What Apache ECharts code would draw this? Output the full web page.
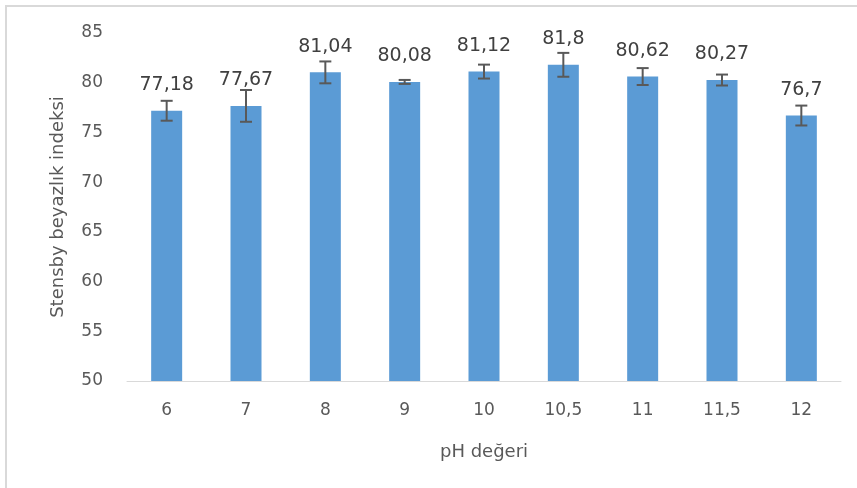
<!DOCTYPE html>
<html>
<head>
<meta charset="utf-8">
<script src="https://cdn.jsdelivr.net/npm/echarts@6/dist/echarts.min.js"></script>
<style>
html,body{margin:0;padding:0;background:#fff;}
#chart{width:857px;height:488px;}
</style>
</head>
<body>
<div id="chart"></div>
<script>
const categories = ['6','7','8','9','10','10,5','11','11,5','12'];
const values = [77.18, 77.67, 81.04, 80.08, 81.12, 81.8, 80.62, 80.27, 76.7];
const errors = [1.0, 1.6, 1.1, 0.2, 0.7, 1.2, 0.85, 0.55, 1.0];
const yTicks = [50, 55, 60, 65, 70, 75, 80, 85];

const FONT = '"DejaVu Sans", "Liberation Sans", sans-serif';
const chart = echarts.init(document.getElementById('chart'));
chart.setOption({
  animation: false,
  backgroundColor: '#fff',
  graphic: [
    { type: 'line', shape: { x1: 5, y1: 6, x2: 857, y2: 6 }, style: { stroke: '#d9d9d9', lineWidth: 2 } },
    { type: 'line', shape: { x1: 6, y1: 5, x2: 6, y2: 488 }, style: { stroke: '#d9d9d9', lineWidth: 2 } }
  ],
  grid: { left: 127, right: 16, top: 33, bottom: 107 },
  xAxis: {
    type: 'category',
    data: categories,
    name: 'pH değeri',
    nameLocation: 'middle',
    nameGap: 62,
    nameTextStyle: { fontFamily: FONT, fontSize: 18, color: '#595959' },
    axisLine: { lineStyle: { color: '#d9d9d9', width: 1 } },
    axisTick: { show: false },
    axisLabel: { fontFamily: FONT, fontSize: 17, color: '#595959', margin: 21 }
  },
  yAxis: {
    type: 'value',
    min: yTicks[0],
    max: yTicks[yTicks.length - 1],
    interval: 5,
    name: 'Stensby beyazlık indeksi',
    nameLocation: 'middle',
    nameGap: 60,
    nameTextStyle: { fontFamily: FONT, fontSize: 18, color: '#595959' },
    axisLine: { show: false },
    axisTick: { show: false },
    splitLine: { show: false },
    axisLabel: { fontFamily: FONT, fontSize: 17, color: '#595959', margin: 24 }
  },
  series: [
    {
      type: 'bar',
      data: values,
      barWidth: 31,
      itemStyle: { color: '#5b9bd5' },
      label: {
        show: true,
        position: 'top',
        distance: 16,
        fontFamily: FONT,
        fontSize: 19,
        color: '#404040',
        formatter: p => String(p.value).replace('.', ',')
      },
      z: 2
    },
    {
      type: 'custom',
      data: values.map((v, i) => [i, v - errors[i], v + errors[i]]),
      renderItem: function (params, api) {
        const lo = api.coord([api.value(0), api.value(1)]);
        const hi = api.coord([api.value(0), api.value(2)]);
        const hw = 6;
        const st = { stroke: '#595959', lineWidth: 2 };
        return {
          type: 'group',
          children: [
            { type: 'line', shape: { x1: lo[0], y1: lo[1], x2: hi[0], y2: hi[1] }, style: st },
            { type: 'line', shape: { x1: lo[0] - hw, y1: lo[1], x2: lo[0] + hw, y2: lo[1] }, style: st },
            { type: 'line', shape: { x1: hi[0] - hw, y1: hi[1], x2: hi[0] + hw, y2: hi[1] }, style: st }
          ]
        };
      },
      z: 5
    }
  ]
});
</script>
</body>
</html>
